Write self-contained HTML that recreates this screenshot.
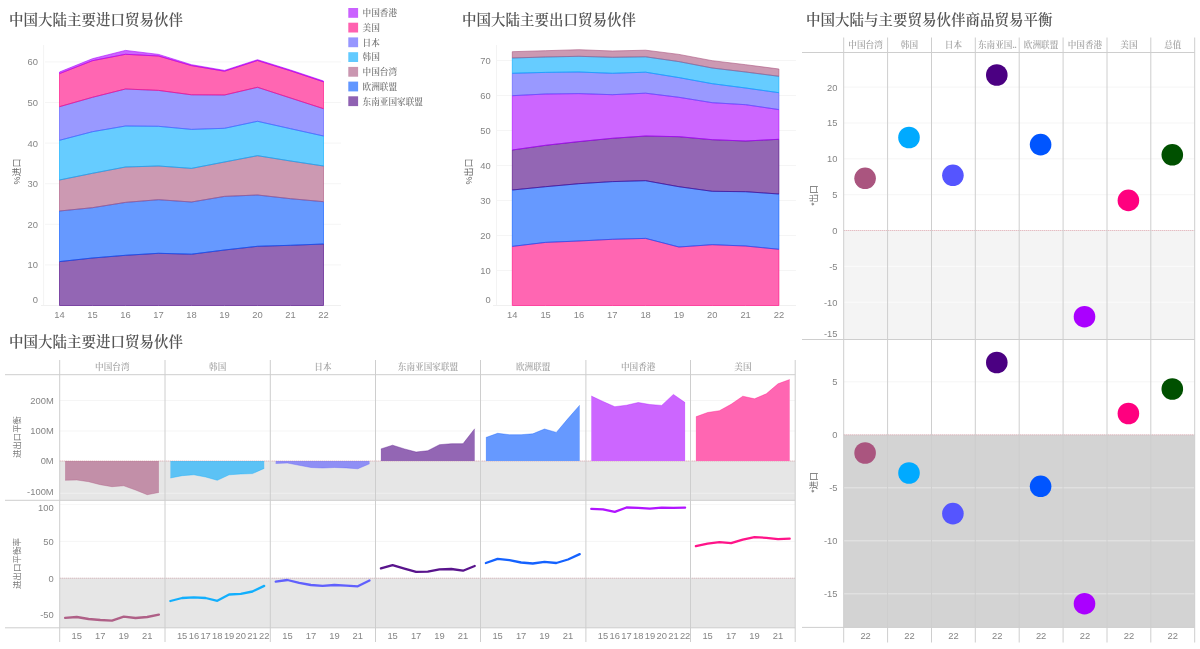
<!DOCTYPE html>
<html lang="zh-CN">
<head>
<meta charset="utf-8">
<title>中国大陆贸易伙伴</title>
<style>
html,body{margin:0;padding:0;background:#fff;}
body{width:1200px;height:649px;overflow:hidden;}
svg{display:block;}
text{white-space:pre;}
</style>
</head>
<body>
<svg width="1200" height="649" viewBox="0 0 1200 649">
<rect width="1200" height="649" fill="#ffffff"/>
<text x="38" y="303" font-size="9.4" fill="#858585" text-anchor="end" font-family='"Liberation Sans","Noto Sans CJK SC",sans-serif' >0</text>
<line x1="45" y1="264.9" x2="341" y2="264.9" stroke="#f5f5f5" stroke-width="1" />
<text x="38" y="268.3" font-size="9.4" fill="#858585" text-anchor="end" font-family='"Liberation Sans","Noto Sans CJK SC",sans-serif' >10</text>
<line x1="45" y1="224.3" x2="341" y2="224.3" stroke="#f5f5f5" stroke-width="1" />
<text x="38" y="227.7" font-size="9.4" fill="#858585" text-anchor="end" font-family='"Liberation Sans","Noto Sans CJK SC",sans-serif' >20</text>
<line x1="45" y1="183.7" x2="341" y2="183.7" stroke="#f5f5f5" stroke-width="1" />
<text x="38" y="187.1" font-size="9.4" fill="#858585" text-anchor="end" font-family='"Liberation Sans","Noto Sans CJK SC",sans-serif' >30</text>
<line x1="45" y1="143.1" x2="341" y2="143.1" stroke="#f5f5f5" stroke-width="1" />
<text x="38" y="146.5" font-size="9.4" fill="#858585" text-anchor="end" font-family='"Liberation Sans","Noto Sans CJK SC",sans-serif' >40</text>
<line x1="45" y1="102.5" x2="341" y2="102.5" stroke="#f5f5f5" stroke-width="1" />
<text x="38" y="105.9" font-size="9.4" fill="#858585" text-anchor="end" font-family='"Liberation Sans","Noto Sans CJK SC",sans-serif' >50</text>
<line x1="45" y1="61.9" x2="341" y2="61.9" stroke="#f5f5f5" stroke-width="1" />
<text x="38" y="65.3" font-size="9.4" fill="#858585" text-anchor="end" font-family='"Liberation Sans","Noto Sans CJK SC",sans-serif' >60</text>
<line x1="43.6" y1="45" x2="43.6" y2="305.5" stroke="#f3f3f3" stroke-width="1" />
<line x1="41" y1="305.5" x2="341" y2="305.5" stroke="#f0f0f0" stroke-width="1" />
<polygon points="59.5,72 92.5,58.7 125.5,50.4 158.5,54.4 191.5,64.7 224.5,70.4 257.5,59.7 290.5,70 323.5,81 323.5,305.5 59.5,305.5" fill="#ffffff"/>
<polygon points="59.5,261.6 92.5,258 125.5,255.3 158.5,253.3 191.5,254.2 224.5,250 257.5,246.3 290.5,245.3 323.5,244 323.5,305.5 290.5,305.5 257.5,305.5 224.5,305.5 191.5,305.5 158.5,305.5 125.5,305.5 92.5,305.5 59.5,305.5" fill="#4B0082" fill-opacity="0.6" stroke="#4B0082" stroke-opacity="0.6" stroke-width="1" stroke-linejoin="round"/>
<polygon points="59.5,211 92.5,207.7 125.5,202.4 158.5,199.7 191.5,202 224.5,196.4 257.5,195 290.5,198.7 323.5,201.7 323.5,244 290.5,245.3 257.5,246.3 224.5,250 191.5,254.2 158.5,253.3 125.5,255.3 92.5,258 59.5,261.6" fill="#0055FF" fill-opacity="0.6" stroke="#0055FF" stroke-opacity="0.6" stroke-width="1" stroke-linejoin="round"/>
<polygon points="59.5,180 92.5,173.3 125.5,167 158.5,166 191.5,168.4 224.5,162 257.5,155.7 290.5,161 323.5,166 323.5,201.7 290.5,198.7 257.5,195 224.5,196.4 191.5,202 158.5,199.7 125.5,202.4 92.5,207.7 59.5,211" fill="#AA557F" fill-opacity="0.6" stroke="#AA557F" stroke-opacity="0.6" stroke-width="1" stroke-linejoin="round"/>
<polygon points="59.5,140.3 92.5,131.7 125.5,126 158.5,126.3 191.5,129.4 224.5,128.3 257.5,121.3 290.5,128.7 323.5,136 323.5,166 290.5,161 257.5,155.7 224.5,162 191.5,168.4 158.5,166 125.5,167 92.5,173.3 59.5,180" fill="#00AAFF" fill-opacity="0.6" stroke="#00AAFF" stroke-opacity="0.6" stroke-width="1" stroke-linejoin="round"/>
<polygon points="59.5,106.7 92.5,97.3 125.5,89 158.5,90.4 191.5,94.8 224.5,95 257.5,87.3 290.5,98 323.5,108.7 323.5,136 290.5,128.7 257.5,121.3 224.5,128.3 191.5,129.4 158.5,126.3 125.5,126 92.5,131.7 59.5,140.3" fill="#5555FF" fill-opacity="0.6" stroke="#5555FF" stroke-opacity="0.6" stroke-width="1" stroke-linejoin="round"/>
<polygon points="59.5,73.6 92.5,60.7 125.5,54.3 158.5,56 191.5,65.6 224.5,71.2 257.5,60.5 290.5,70.8 323.5,81.8 323.5,108.7 290.5,98 257.5,87.3 224.5,95 191.5,94.8 158.5,90.4 125.5,89 92.5,97.3 59.5,106.7" fill="#FF007F" fill-opacity="0.6" stroke="#FF007F" stroke-opacity="0.6" stroke-width="1" stroke-linejoin="round"/>
<polygon points="59.5,72 92.5,58.7 125.5,50.4 158.5,54.4 191.5,64.7 224.5,70.4 257.5,59.7 290.5,70 323.5,81 323.5,81.8 290.5,70.8 257.5,60.5 224.5,71.2 191.5,65.6 158.5,56 125.5,54.3 92.5,60.7 59.5,73.6" fill="#AA00FF" fill-opacity="0.6" stroke="#AA00FF" stroke-opacity="0.6" stroke-width="1" stroke-linejoin="round"/>
<text x="59.5" y="318" font-size="9.4" fill="#858585" text-anchor="middle" font-family='"Liberation Sans","Noto Sans CJK SC",sans-serif' >14</text>
<text x="92.5" y="318" font-size="9.4" fill="#858585" text-anchor="middle" font-family='"Liberation Sans","Noto Sans CJK SC",sans-serif' >15</text>
<text x="125.5" y="318" font-size="9.4" fill="#858585" text-anchor="middle" font-family='"Liberation Sans","Noto Sans CJK SC",sans-serif' >16</text>
<text x="158.5" y="318" font-size="9.4" fill="#858585" text-anchor="middle" font-family='"Liberation Sans","Noto Sans CJK SC",sans-serif' >17</text>
<text x="191.5" y="318" font-size="9.4" fill="#858585" text-anchor="middle" font-family='"Liberation Sans","Noto Sans CJK SC",sans-serif' >18</text>
<text x="224.5" y="318" font-size="9.4" fill="#858585" text-anchor="middle" font-family='"Liberation Sans","Noto Sans CJK SC",sans-serif' >19</text>
<text x="257.5" y="318" font-size="9.4" fill="#858585" text-anchor="middle" font-family='"Liberation Sans","Noto Sans CJK SC",sans-serif' >20</text>
<text x="290.5" y="318" font-size="9.4" fill="#858585" text-anchor="middle" font-family='"Liberation Sans","Noto Sans CJK SC",sans-serif' >21</text>
<text x="323.5" y="318" font-size="9.4" fill="#858585" text-anchor="middle" font-family='"Liberation Sans","Noto Sans CJK SC",sans-serif' >22</text>
<text transform="translate(19.8 171.5) rotate(-90)" font-size="9" fill="#666" text-anchor="middle" font-family='"Liberation Sans","Noto Sans CJK SC",sans-serif'>%进口</text>
<text x="9" y="25" font-size="14.5" fill="#555555" text-anchor="start" font-family='"Liberation Serif","Noto Serif CJK SC",serif' font-weight="600">中国大陆主要进口贸易伙伴</text>
<rect x="348.3" y="8" width="9.8" height="9.8" fill="#AA00FF" fill-opacity="0.62"/>
<text x="362.5" y="16.2" font-size="8.65" fill="#7a7a7a" text-anchor="start" font-family='"Liberation Serif","Noto Serif CJK SC",serif' font-weight="600">中国香港</text>
<rect x="348.3" y="22.7" width="9.8" height="9.8" fill="#FF007F" fill-opacity="0.62"/>
<text x="362.5" y="30.9" font-size="8.65" fill="#7a7a7a" text-anchor="start" font-family='"Liberation Serif","Noto Serif CJK SC",serif' font-weight="600">美国</text>
<rect x="348.3" y="37.4" width="9.8" height="9.8" fill="#5555FF" fill-opacity="0.62"/>
<text x="362.5" y="45.6" font-size="8.65" fill="#7a7a7a" text-anchor="start" font-family='"Liberation Serif","Noto Serif CJK SC",serif' font-weight="600">日本</text>
<rect x="348.3" y="52.2" width="9.8" height="9.8" fill="#00AAFF" fill-opacity="0.62"/>
<text x="362.5" y="60.4" font-size="8.65" fill="#7a7a7a" text-anchor="start" font-family='"Liberation Serif","Noto Serif CJK SC",serif' font-weight="600">韩国</text>
<rect x="348.3" y="66.9" width="9.8" height="9.8" fill="#AA557F" fill-opacity="0.62"/>
<text x="362.5" y="75.1" font-size="8.65" fill="#7a7a7a" text-anchor="start" font-family='"Liberation Serif","Noto Serif CJK SC",serif' font-weight="600">中国台湾</text>
<rect x="348.3" y="81.6" width="9.8" height="9.8" fill="#0055FF" fill-opacity="0.62"/>
<text x="362.5" y="89.8" font-size="8.65" fill="#7a7a7a" text-anchor="start" font-family='"Liberation Serif","Noto Serif CJK SC",serif' font-weight="600">欧洲联盟</text>
<rect x="348.3" y="96.3" width="9.8" height="9.8" fill="#4B0082" fill-opacity="0.62"/>
<text x="362.5" y="104.5" font-size="8.65" fill="#7a7a7a" text-anchor="start" font-family='"Liberation Serif","Noto Serif CJK SC",serif' font-weight="600">东南亚国家联盟</text>
<text x="490.8" y="303" font-size="9.4" fill="#858585" text-anchor="end" font-family='"Liberation Sans","Noto Sans CJK SC",sans-serif' >0</text>
<line x1="497" y1="270.5" x2="796" y2="270.5" stroke="#f5f5f5" stroke-width="1" />
<text x="490.8" y="273.9" font-size="9.4" fill="#858585" text-anchor="end" font-family='"Liberation Sans","Noto Sans CJK SC",sans-serif' >10</text>
<line x1="497" y1="235.5" x2="796" y2="235.5" stroke="#f5f5f5" stroke-width="1" />
<text x="490.8" y="238.9" font-size="9.4" fill="#858585" text-anchor="end" font-family='"Liberation Sans","Noto Sans CJK SC",sans-serif' >20</text>
<line x1="497" y1="200.5" x2="796" y2="200.5" stroke="#f5f5f5" stroke-width="1" />
<text x="490.8" y="203.9" font-size="9.4" fill="#858585" text-anchor="end" font-family='"Liberation Sans","Noto Sans CJK SC",sans-serif' >30</text>
<line x1="497" y1="165.5" x2="796" y2="165.5" stroke="#f5f5f5" stroke-width="1" />
<text x="490.8" y="168.9" font-size="9.4" fill="#858585" text-anchor="end" font-family='"Liberation Sans","Noto Sans CJK SC",sans-serif' >40</text>
<line x1="497" y1="130.5" x2="796" y2="130.5" stroke="#f5f5f5" stroke-width="1" />
<text x="490.8" y="133.9" font-size="9.4" fill="#858585" text-anchor="end" font-family='"Liberation Sans","Noto Sans CJK SC",sans-serif' >50</text>
<line x1="497" y1="95.5" x2="796" y2="95.5" stroke="#f5f5f5" stroke-width="1" />
<text x="490.8" y="98.9" font-size="9.4" fill="#858585" text-anchor="end" font-family='"Liberation Sans","Noto Sans CJK SC",sans-serif' >60</text>
<line x1="497" y1="60.5" x2="796" y2="60.5" stroke="#f5f5f5" stroke-width="1" />
<text x="490.8" y="63.9" font-size="9.4" fill="#858585" text-anchor="end" font-family='"Liberation Sans","Noto Sans CJK SC",sans-serif' >70</text>
<line x1="496.5" y1="45" x2="496.5" y2="305.5" stroke="#f3f3f3" stroke-width="1" />
<line x1="493" y1="305.5" x2="796" y2="305.5" stroke="#f0f0f0" stroke-width="1" />
<polygon points="512.3,51.7 545.6,50.7 578.9,49.7 612.3,51 645.6,50.2 678.9,54.4 712.2,60.7 745.6,64.7 778.9,69 778.9,305.5 512.3,305.5" fill="#ffffff"/>
<polygon points="512.3,246.4 545.6,242.4 578.9,241 612.3,239.3 645.6,238.4 678.9,247 712.2,244.7 745.6,246 778.9,249.3 778.9,305.5 745.6,305.5 712.2,305.5 678.9,305.5 645.6,305.5 612.3,305.5 578.9,305.5 545.6,305.5 512.3,305.5" fill="#FF007F" fill-opacity="0.6" stroke="#FF007F" stroke-opacity="0.6" stroke-width="1" stroke-linejoin="round"/>
<polygon points="512.3,190 545.6,186.7 578.9,183.7 612.3,181.6 645.6,180.7 678.9,186.7 712.2,191.3 745.6,191.7 778.9,194 778.9,249.3 745.6,246 712.2,244.7 678.9,247 645.6,238.4 612.3,239.3 578.9,241 545.6,242.4 512.3,246.4" fill="#0055FF" fill-opacity="0.6" stroke="#0055FF" stroke-opacity="0.6" stroke-width="1" stroke-linejoin="round"/>
<polygon points="512.3,150 545.6,145.3 578.9,141.6 612.3,138.3 645.6,136 678.9,136.7 712.2,139.7 745.6,141 778.9,139.3 778.9,194 745.6,191.7 712.2,191.3 678.9,186.7 645.6,180.7 612.3,181.6 578.9,183.7 545.6,186.7 512.3,190" fill="#4B0082" fill-opacity="0.6" stroke="#4B0082" stroke-opacity="0.6" stroke-width="1" stroke-linejoin="round"/>
<polygon points="512.3,95.7 545.6,94 578.9,93.6 612.3,94.7 645.6,93.2 678.9,97.3 712.2,102.7 745.6,104.7 778.9,109.6 778.9,139.3 745.6,141 712.2,139.7 678.9,136.7 645.6,136 612.3,138.3 578.9,141.6 545.6,145.3 512.3,150" fill="#AA00FF" fill-opacity="0.6" stroke="#AA00FF" stroke-opacity="0.6" stroke-width="1" stroke-linejoin="round"/>
<polygon points="512.3,73.3 545.6,72.4 578.9,72 612.3,73.3 645.6,72.2 678.9,77.6 712.2,83.7 745.6,88 778.9,92.7 778.9,109.6 745.6,104.7 712.2,102.7 678.9,97.3 645.6,93.2 612.3,94.7 578.9,93.6 545.6,94 512.3,95.7" fill="#5555FF" fill-opacity="0.6" stroke="#5555FF" stroke-opacity="0.6" stroke-width="1" stroke-linejoin="round"/>
<polygon points="512.3,58 545.6,57 578.9,56.3 612.3,57.3 645.6,56.8 678.9,61.6 712.2,68 745.6,72 778.9,76.3 778.9,92.7 745.6,88 712.2,83.7 678.9,77.6 645.6,72.2 612.3,73.3 578.9,72 545.6,72.4 512.3,73.3" fill="#00AAFF" fill-opacity="0.6" stroke="#00AAFF" stroke-opacity="0.6" stroke-width="1" stroke-linejoin="round"/>
<polygon points="512.3,51.7 545.6,50.7 578.9,49.7 612.3,51 645.6,50.2 678.9,54.4 712.2,60.7 745.6,64.7 778.9,69 778.9,76.3 745.6,72 712.2,68 678.9,61.6 645.6,56.8 612.3,57.3 578.9,56.3 545.6,57 512.3,58" fill="#AA557F" fill-opacity="0.6" stroke="#AA557F" stroke-opacity="0.6" stroke-width="1" stroke-linejoin="round"/>
<text x="512.3" y="318" font-size="9.4" fill="#858585" text-anchor="middle" font-family='"Liberation Sans","Noto Sans CJK SC",sans-serif' >14</text>
<text x="545.6" y="318" font-size="9.4" fill="#858585" text-anchor="middle" font-family='"Liberation Sans","Noto Sans CJK SC",sans-serif' >15</text>
<text x="578.9" y="318" font-size="9.4" fill="#858585" text-anchor="middle" font-family='"Liberation Sans","Noto Sans CJK SC",sans-serif' >16</text>
<text x="612.3" y="318" font-size="9.4" fill="#858585" text-anchor="middle" font-family='"Liberation Sans","Noto Sans CJK SC",sans-serif' >17</text>
<text x="645.6" y="318" font-size="9.4" fill="#858585" text-anchor="middle" font-family='"Liberation Sans","Noto Sans CJK SC",sans-serif' >18</text>
<text x="678.9" y="318" font-size="9.4" fill="#858585" text-anchor="middle" font-family='"Liberation Sans","Noto Sans CJK SC",sans-serif' >19</text>
<text x="712.2" y="318" font-size="9.4" fill="#858585" text-anchor="middle" font-family='"Liberation Sans","Noto Sans CJK SC",sans-serif' >20</text>
<text x="745.6" y="318" font-size="9.4" fill="#858585" text-anchor="middle" font-family='"Liberation Sans","Noto Sans CJK SC",sans-serif' >21</text>
<text x="778.9" y="318" font-size="9.4" fill="#858585" text-anchor="middle" font-family='"Liberation Sans","Noto Sans CJK SC",sans-serif' >22</text>
<text transform="translate(472.3 171.5) rotate(-90)" font-size="9" fill="#666" text-anchor="middle" font-family='"Liberation Sans","Noto Sans CJK SC",sans-serif'>%出口</text>
<text x="462" y="25" font-size="14.5" fill="#555555" text-anchor="start" font-family='"Liberation Serif","Noto Serif CJK SC",serif' font-weight="600">中国大陆主要出口贸易伙伴</text>
<rect x="59.7" y="461" width="735.5" height="39.3" fill="#e6e6e6" />
<rect x="59.7" y="578.2" width="735.5" height="49.6" fill="#e6e6e6" />
<line x1="59.7" y1="400.5" x2="795.2" y2="400.5" stroke="#f5f5f5" stroke-width="1" />
<line x1="59.7" y1="431" x2="795.2" y2="431" stroke="#f5f5f5" stroke-width="1" />
<line x1="59.7" y1="493.3" x2="795.2" y2="493.3" stroke="#efefef" stroke-width="1" />
<line x1="59.7" y1="541.4" x2="795.2" y2="541.4" stroke="#f5f5f5" stroke-width="1" />
<line x1="59.7" y1="504.6" x2="795.2" y2="504.6" stroke="#f7f7f7" stroke-width="1" />
<line x1="59.7" y1="461" x2="795.2" y2="461" stroke="#d9a0a8" stroke-width="1" stroke-dasharray="1 1"/>
<line x1="59.7" y1="578.2" x2="795.2" y2="578.2" stroke="#c9a0a6" stroke-width="1" stroke-dasharray="1 1"/>
<polygon points="65.1,480.3 76.8,480 88.6,481.7 100.3,484.7 112,486.7 123.8,485.8 135.5,490 147.2,494.7 158.9,492.5 158.9,461 65.1,461" fill="#AA557F" fill-opacity="0.6"/>
<polyline points="65.1,480.3 76.8,480 88.6,481.7 100.3,484.7 112,486.7 123.8,485.8 135.5,490 147.2,494.7 158.9,492.5" fill="none" stroke="#AA557F" stroke-opacity="0.35" stroke-width="1"/>
<polyline points="65.1,617.8 76.8,617 88.6,619 100.3,620 112,620.6 123.8,616.7 135.5,618 147.2,617 158.9,614.6" fill="none" stroke="#AA557F" stroke-opacity="0.92" stroke-width="2.3" stroke-linejoin="round" stroke-linecap="round"/>
<text x="76.8" y="639.2" font-size="9.4" fill="#858585" text-anchor="middle" font-family='"Liberation Sans","Noto Sans CJK SC",sans-serif' >15</text>
<text x="100.3" y="639.2" font-size="9.4" fill="#858585" text-anchor="middle" font-family='"Liberation Sans","Noto Sans CJK SC",sans-serif' >17</text>
<text x="123.8" y="639.2" font-size="9.4" fill="#858585" text-anchor="middle" font-family='"Liberation Sans","Noto Sans CJK SC",sans-serif' >19</text>
<text x="147.2" y="639.2" font-size="9.4" fill="#858585" text-anchor="middle" font-family='"Liberation Sans","Noto Sans CJK SC",sans-serif' >21</text>
<text x="112.3" y="370.2" font-size="8.65" fill="#a6a6a6" text-anchor="middle" font-family='"Liberation Serif","Noto Serif CJK SC",serif' font-weight="600">中国台湾</text>
<polygon points="170.4,478 182.1,475.7 193.9,474.8 205.6,477 217.3,480.3 229.1,474.8 240.8,474 252.5,473.6 264.2,468.4 264.2,461 170.4,461" fill="#00AAFF" fill-opacity="0.6"/>
<polyline points="170.4,478 182.1,475.7 193.9,474.8 205.6,477 217.3,480.3 229.1,474.8 240.8,474 252.5,473.6 264.2,468.4" fill="none" stroke="#00AAFF" stroke-opacity="0.35" stroke-width="1"/>
<polyline points="170.4,601 182.1,598 193.9,597.3 205.6,598 217.3,600.8 229.1,594.5 240.8,593.8 252.5,591.5 264.2,585.9" fill="none" stroke="#00AAFF" stroke-opacity="0.92" stroke-width="2.3" stroke-linejoin="round" stroke-linecap="round"/>
<text x="182.1" y="639.2" font-size="9.4" fill="#858585" text-anchor="middle" font-family='"Liberation Sans","Noto Sans CJK SC",sans-serif' >15</text>
<text x="193.9" y="639.2" font-size="9.4" fill="#858585" text-anchor="middle" font-family='"Liberation Sans","Noto Sans CJK SC",sans-serif' >16</text>
<text x="205.6" y="639.2" font-size="9.4" fill="#858585" text-anchor="middle" font-family='"Liberation Sans","Noto Sans CJK SC",sans-serif' >17</text>
<text x="217.3" y="639.2" font-size="9.4" fill="#858585" text-anchor="middle" font-family='"Liberation Sans","Noto Sans CJK SC",sans-serif' >18</text>
<text x="229.1" y="639.2" font-size="9.4" fill="#858585" text-anchor="middle" font-family='"Liberation Sans","Noto Sans CJK SC",sans-serif' >19</text>
<text x="240.8" y="639.2" font-size="9.4" fill="#858585" text-anchor="middle" font-family='"Liberation Sans","Noto Sans CJK SC",sans-serif' >20</text>
<text x="252.5" y="639.2" font-size="9.4" fill="#858585" text-anchor="middle" font-family='"Liberation Sans","Noto Sans CJK SC",sans-serif' >21</text>
<text x="264.2" y="639.2" font-size="9.4" fill="#858585" text-anchor="middle" font-family='"Liberation Sans","Noto Sans CJK SC",sans-serif' >22</text>
<text x="217.7" y="370.2" font-size="8.65" fill="#a6a6a6" text-anchor="middle" font-family='"Liberation Serif","Noto Serif CJK SC",serif' font-weight="600">韩国</text>
<polygon points="275.7,463.5 287.4,463 299.2,465.3 310.9,467.5 322.6,468 334.4,467.5 346.1,467.9 357.8,468.8 369.5,463.8 369.5,461 275.7,461" fill="#5555FF" fill-opacity="0.6"/>
<polyline points="275.7,463.5 287.4,463 299.2,465.3 310.9,467.5 322.6,468 334.4,467.5 346.1,467.9 357.8,468.8 369.5,463.8" fill="none" stroke="#5555FF" stroke-opacity="0.35" stroke-width="1"/>
<polyline points="275.7,581.7 287.4,580 299.2,582.8 310.9,585 322.6,585.9 334.4,585 346.1,585.6 357.8,586.3 369.5,580.5" fill="none" stroke="#5555FF" stroke-opacity="0.92" stroke-width="2.3" stroke-linejoin="round" stroke-linecap="round"/>
<text x="287.4" y="639.2" font-size="9.4" fill="#858585" text-anchor="middle" font-family='"Liberation Sans","Noto Sans CJK SC",sans-serif' >15</text>
<text x="310.9" y="639.2" font-size="9.4" fill="#858585" text-anchor="middle" font-family='"Liberation Sans","Noto Sans CJK SC",sans-serif' >17</text>
<text x="334.4" y="639.2" font-size="9.4" fill="#858585" text-anchor="middle" font-family='"Liberation Sans","Noto Sans CJK SC",sans-serif' >19</text>
<text x="357.8" y="639.2" font-size="9.4" fill="#858585" text-anchor="middle" font-family='"Liberation Sans","Noto Sans CJK SC",sans-serif' >21</text>
<text x="322.9" y="370.2" font-size="8.65" fill="#a6a6a6" text-anchor="middle" font-family='"Liberation Serif","Noto Serif CJK SC",serif' font-weight="600">日本</text>
<polygon points="380.9,448.9 392.6,445.2 404.4,448.9 416.1,452 427.8,450.7 439.5,444.7 451.3,443.7 463,443.7 474.7,428.7 474.7,461 380.9,461" fill="#ffffff"/>
<polygon points="380.9,448.9 392.6,445.2 404.4,448.9 416.1,452 427.8,450.7 439.5,444.7 451.3,443.7 463,443.7 474.7,428.7 474.7,461 380.9,461" fill="#4B0082" fill-opacity="0.6"/>
<polyline points="380.9,448.9 392.6,445.2 404.4,448.9 416.1,452 427.8,450.7 439.5,444.7 451.3,443.7 463,443.7 474.7,428.7" fill="none" stroke="#4B0082" stroke-opacity="0.35" stroke-width="1"/>
<polyline points="380.9,568.4 392.6,565.1 404.4,568.6 416.1,571.9 427.8,571.6 439.5,569.3 451.3,569 463,570.7 474.7,566" fill="none" stroke="#4B0082" stroke-opacity="0.92" stroke-width="2.3" stroke-linejoin="round" stroke-linecap="round"/>
<text x="392.6" y="639.2" font-size="9.4" fill="#858585" text-anchor="middle" font-family='"Liberation Sans","Noto Sans CJK SC",sans-serif' >15</text>
<text x="416.1" y="639.2" font-size="9.4" fill="#858585" text-anchor="middle" font-family='"Liberation Sans","Noto Sans CJK SC",sans-serif' >17</text>
<text x="439.5" y="639.2" font-size="9.4" fill="#858585" text-anchor="middle" font-family='"Liberation Sans","Noto Sans CJK SC",sans-serif' >19</text>
<text x="463" y="639.2" font-size="9.4" fill="#858585" text-anchor="middle" font-family='"Liberation Sans","Noto Sans CJK SC",sans-serif' >21</text>
<text x="428" y="370.2" font-size="8.65" fill="#a6a6a6" text-anchor="middle" font-family='"Liberation Serif","Noto Serif CJK SC",serif' font-weight="600">东南亚国家联盟</text>
<polygon points="485.9,437.5 497.6,433.3 509.4,434.7 521.1,434.7 532.8,433.8 544.5,429 556.3,432.4 568,418.6 579.7,405.2 579.7,461 485.9,461" fill="#ffffff"/>
<polygon points="485.9,437.5 497.6,433.3 509.4,434.7 521.1,434.7 532.8,433.8 544.5,429 556.3,432.4 568,418.6 579.7,405.2 579.7,461 485.9,461" fill="#0055FF" fill-opacity="0.6"/>
<polyline points="485.9,437.5 497.6,433.3 509.4,434.7 521.1,434.7 532.8,433.8 544.5,429 556.3,432.4 568,418.6 579.7,405.2" fill="none" stroke="#0055FF" stroke-opacity="0.35" stroke-width="1"/>
<polyline points="485.9,563 497.6,558.8 509.4,560.2 521.1,562.5 532.8,563.5 544.5,561.8 556.3,563 568,559.5 579.7,554.1" fill="none" stroke="#0055FF" stroke-opacity="0.92" stroke-width="2.3" stroke-linejoin="round" stroke-linecap="round"/>
<text x="497.6" y="639.2" font-size="9.4" fill="#858585" text-anchor="middle" font-family='"Liberation Sans","Noto Sans CJK SC",sans-serif' >15</text>
<text x="521.1" y="639.2" font-size="9.4" fill="#858585" text-anchor="middle" font-family='"Liberation Sans","Noto Sans CJK SC",sans-serif' >17</text>
<text x="544.5" y="639.2" font-size="9.4" fill="#858585" text-anchor="middle" font-family='"Liberation Sans","Noto Sans CJK SC",sans-serif' >19</text>
<text x="568" y="639.2" font-size="9.4" fill="#858585" text-anchor="middle" font-family='"Liberation Sans","Noto Sans CJK SC",sans-serif' >21</text>
<text x="533.2" y="370.2" font-size="8.65" fill="#a6a6a6" text-anchor="middle" font-family='"Liberation Serif","Noto Serif CJK SC",serif' font-weight="600">欧洲联盟</text>
<polygon points="591.3,396 603,401.5 614.8,406.7 626.5,405.2 638.2,402.5 649.9,404.5 661.7,405.4 673.4,394.4 685.1,402.6 685.1,461 591.3,461" fill="#ffffff"/>
<polygon points="591.3,396 603,401.5 614.8,406.7 626.5,405.2 638.2,402.5 649.9,404.5 661.7,405.4 673.4,394.4 685.1,402.6 685.1,461 591.3,461" fill="#AA00FF" fill-opacity="0.6"/>
<polyline points="591.3,396 603,401.5 614.8,406.7 626.5,405.2 638.2,402.5 649.9,404.5 661.7,405.4 673.4,394.4 685.1,402.6" fill="none" stroke="#AA00FF" stroke-opacity="0.35" stroke-width="1"/>
<polyline points="591.3,508.9 603,509.3 614.8,511.9 626.5,507.5 638.2,507.9 649.9,508.6 661.7,507.7 673.4,507.9 685.1,507.7" fill="none" stroke="#AA00FF" stroke-opacity="0.92" stroke-width="2.3" stroke-linejoin="round" stroke-linecap="round"/>
<text x="603" y="639.2" font-size="9.4" fill="#858585" text-anchor="middle" font-family='"Liberation Sans","Noto Sans CJK SC",sans-serif' >15</text>
<text x="614.8" y="639.2" font-size="9.4" fill="#858585" text-anchor="middle" font-family='"Liberation Sans","Noto Sans CJK SC",sans-serif' >16</text>
<text x="626.5" y="639.2" font-size="9.4" fill="#858585" text-anchor="middle" font-family='"Liberation Sans","Noto Sans CJK SC",sans-serif' >17</text>
<text x="638.2" y="639.2" font-size="9.4" fill="#858585" text-anchor="middle" font-family='"Liberation Sans","Noto Sans CJK SC",sans-serif' >18</text>
<text x="649.9" y="639.2" font-size="9.4" fill="#858585" text-anchor="middle" font-family='"Liberation Sans","Noto Sans CJK SC",sans-serif' >19</text>
<text x="661.7" y="639.2" font-size="9.4" fill="#858585" text-anchor="middle" font-family='"Liberation Sans","Noto Sans CJK SC",sans-serif' >20</text>
<text x="673.4" y="639.2" font-size="9.4" fill="#858585" text-anchor="middle" font-family='"Liberation Sans","Noto Sans CJK SC",sans-serif' >21</text>
<text x="685.1" y="639.2" font-size="9.4" fill="#858585" text-anchor="middle" font-family='"Liberation Sans","Noto Sans CJK SC",sans-serif' >22</text>
<text x="638.2" y="370.2" font-size="8.65" fill="#a6a6a6" text-anchor="middle" font-family='"Liberation Serif","Noto Serif CJK SC",serif' font-weight="600">中国香港</text>
<polygon points="695.9,416.8 707.6,412.5 719.4,410.7 731.1,404.3 742.8,396.2 754.5,398.8 766.3,393.8 778,383.8 789.7,379.5 789.7,461 695.9,461" fill="#ffffff"/>
<polygon points="695.9,416.8 707.6,412.5 719.4,410.7 731.1,404.3 742.8,396.2 754.5,398.8 766.3,393.8 778,383.8 789.7,379.5 789.7,461 695.9,461" fill="#FF007F" fill-opacity="0.6"/>
<polyline points="695.9,416.8 707.6,412.5 719.4,410.7 731.1,404.3 742.8,396.2 754.5,398.8 766.3,393.8 778,383.8 789.7,379.5" fill="none" stroke="#FF007F" stroke-opacity="0.35" stroke-width="1"/>
<polyline points="695.9,546.2 707.6,543.6 719.4,542.2 731.1,543.2 742.8,539.7 754.5,537.1 766.3,537.8 778,539.2 789.7,538.7" fill="none" stroke="#FF007F" stroke-opacity="0.92" stroke-width="2.3" stroke-linejoin="round" stroke-linecap="round"/>
<text x="707.6" y="639.2" font-size="9.4" fill="#858585" text-anchor="middle" font-family='"Liberation Sans","Noto Sans CJK SC",sans-serif' >15</text>
<text x="731.1" y="639.2" font-size="9.4" fill="#858585" text-anchor="middle" font-family='"Liberation Sans","Noto Sans CJK SC",sans-serif' >17</text>
<text x="754.5" y="639.2" font-size="9.4" fill="#858585" text-anchor="middle" font-family='"Liberation Sans","Noto Sans CJK SC",sans-serif' >19</text>
<text x="778" y="639.2" font-size="9.4" fill="#858585" text-anchor="middle" font-family='"Liberation Sans","Noto Sans CJK SC",sans-serif' >21</text>
<text x="742.9" y="370.2" font-size="8.65" fill="#a6a6a6" text-anchor="middle" font-family='"Liberation Serif","Noto Serif CJK SC",serif' font-weight="600">美国</text>
<line x1="59.7" y1="360" x2="59.7" y2="642" stroke="#cecece" stroke-width="1" />
<line x1="165" y1="360" x2="165" y2="642" stroke="#cecece" stroke-width="1" />
<line x1="270.3" y1="360" x2="270.3" y2="642" stroke="#cecece" stroke-width="1" />
<line x1="375.5" y1="360" x2="375.5" y2="642" stroke="#cecece" stroke-width="1" />
<line x1="480.5" y1="360" x2="480.5" y2="642" stroke="#cecece" stroke-width="1" />
<line x1="585.9" y1="360" x2="585.9" y2="642" stroke="#cecece" stroke-width="1" />
<line x1="690.5" y1="360" x2="690.5" y2="642" stroke="#cecece" stroke-width="1" />
<line x1="795.2" y1="360" x2="795.2" y2="642" stroke="#cecece" stroke-width="1" />
<line x1="5" y1="374.7" x2="795.2" y2="374.7" stroke="#cecece" stroke-width="1" />
<line x1="5" y1="500.3" x2="795.2" y2="500.3" stroke="#cecece" stroke-width="1" />
<line x1="5" y1="627.8" x2="795.2" y2="627.8" stroke="#cecece" stroke-width="1" />
<text x="53.7" y="403.9" font-size="9.4" fill="#858585" text-anchor="end" font-family='"Liberation Sans","Noto Sans CJK SC",sans-serif' >200M</text>
<text x="53.7" y="434.4" font-size="9.4" fill="#858585" text-anchor="end" font-family='"Liberation Sans","Noto Sans CJK SC",sans-serif' >100M</text>
<text x="53.7" y="464.4" font-size="9.4" fill="#858585" text-anchor="end" font-family='"Liberation Sans","Noto Sans CJK SC",sans-serif' >0M</text>
<text x="53.7" y="494.7" font-size="9.4" fill="#858585" text-anchor="end" font-family='"Liberation Sans","Noto Sans CJK SC",sans-serif' >-100M</text>
<text x="53.7" y="510.9" font-size="9.4" fill="#858585" text-anchor="end" font-family='"Liberation Sans","Noto Sans CJK SC",sans-serif' >100</text>
<text x="53.7" y="544.8" font-size="9.4" fill="#858585" text-anchor="end" font-family='"Liberation Sans","Noto Sans CJK SC",sans-serif' >50</text>
<text x="53.7" y="581.6" font-size="9.4" fill="#858585" text-anchor="end" font-family='"Liberation Sans","Noto Sans CJK SC",sans-serif' >0</text>
<text x="53.7" y="618.4" font-size="9.4" fill="#858585" text-anchor="end" font-family='"Liberation Sans","Noto Sans CJK SC",sans-serif' >-50</text>
<text transform="translate(19.6 437) rotate(-90)" font-size="8.4" fill="#7d7d7d" text-anchor="middle" font-family='"Liberation Sans","Noto Sans CJK SC",sans-serif'>进出口平衡</text>
<text transform="translate(19.6 563.5) rotate(-90)" font-size="8.5" fill="#7d7d7d" text-anchor="middle" font-family='"Liberation Sans","Noto Sans CJK SC",sans-serif'>进出口平衡率</text>
<text x="9" y="346.5" font-size="14.5" fill="#555555" text-anchor="start" font-family='"Liberation Serif","Noto Serif CJK SC",serif' font-weight="600">中国大陆主要进口贸易伙伴</text>
<rect x="843.7" y="230.5" width="351" height="109" fill="#f4f4f4" />
<rect x="843.7" y="434.8" width="351" height="192.6" fill="#d3d3d3" />
<line x1="843.7" y1="194.7" x2="1194.7" y2="194.7" stroke="#f5f5f5" stroke-width="1" />
<line x1="843.7" y1="158.8" x2="1194.7" y2="158.8" stroke="#f5f5f5" stroke-width="1" />
<line x1="843.7" y1="123" x2="1194.7" y2="123" stroke="#f5f5f5" stroke-width="1" />
<line x1="843.7" y1="87.1" x2="1194.7" y2="87.1" stroke="#f5f5f5" stroke-width="1" />
<line x1="843.7" y1="266.4" x2="1194.7" y2="266.4" stroke="#fbfbfb" stroke-width="1" />
<line x1="843.7" y1="302.2" x2="1194.7" y2="302.2" stroke="#fbfbfb" stroke-width="1" />
<line x1="843.7" y1="381.8" x2="1194.7" y2="381.8" stroke="#f5f5f5" stroke-width="1" />
<line x1="843.7" y1="487.8" x2="1194.7" y2="487.8" stroke="#e6e6e6" stroke-width="1" />
<line x1="843.7" y1="540.8" x2="1194.7" y2="540.8" stroke="#e6e6e6" stroke-width="1" />
<line x1="843.7" y1="593.8" x2="1194.7" y2="593.8" stroke="#e6e6e6" stroke-width="1" />
<line x1="843.7" y1="230.5" x2="1194.7" y2="230.5" stroke="#dba3ab" stroke-width="1" stroke-dasharray="1 1"/>
<line x1="843.7" y1="434.8" x2="1194.7" y2="434.8" stroke="#dba3ab" stroke-width="1" stroke-dasharray="1 1"/>
<line x1="843.7" y1="37.5" x2="843.7" y2="642.5" stroke="#cecece" stroke-width="1" />
<line x1="887.6" y1="37.5" x2="887.6" y2="642.5" stroke="#cecece" stroke-width="1" />
<line x1="931.5" y1="37.5" x2="931.5" y2="642.5" stroke="#cecece" stroke-width="1" />
<line x1="975.3" y1="37.5" x2="975.3" y2="642.5" stroke="#cecece" stroke-width="1" />
<line x1="1019.2" y1="37.5" x2="1019.2" y2="642.5" stroke="#cecece" stroke-width="1" />
<line x1="1063.1" y1="37.5" x2="1063.1" y2="642.5" stroke="#cecece" stroke-width="1" />
<line x1="1107" y1="37.5" x2="1107" y2="642.5" stroke="#cecece" stroke-width="1" />
<line x1="1150.8" y1="37.5" x2="1150.8" y2="642.5" stroke="#cecece" stroke-width="1" />
<line x1="1194.7" y1="37.5" x2="1194.7" y2="642.5" stroke="#cecece" stroke-width="1" />
<line x1="802" y1="52.5" x2="1194.7" y2="52.5" stroke="#cecece" stroke-width="1" />
<line x1="802" y1="339.5" x2="1194.7" y2="339.5" stroke="#cecece" stroke-width="1" />
<line x1="802" y1="627.4" x2="1194.7" y2="627.4" stroke="#cecece" stroke-width="1" />
<circle cx="865.1" cy="178.3" r="10.8" fill="#AA557F"/>
<circle cx="865.1" cy="453" r="10.8" fill="#AA557F"/>
<text x="865.6" y="48.2" font-size="8.65" fill="#a6a6a6" text-anchor="middle" font-family='"Liberation Serif","Noto Serif CJK SC",serif' font-weight="600">中国台湾</text>
<text x="865.6" y="638.8" font-size="9.4" fill="#858585" text-anchor="middle" font-family='"Liberation Sans","Noto Sans CJK SC",sans-serif' >22</text>
<circle cx="909" cy="137.5" r="10.8" fill="#00AAFF"/>
<circle cx="909" cy="473" r="10.8" fill="#00AAFF"/>
<text x="909.5" y="48.2" font-size="8.65" fill="#a6a6a6" text-anchor="middle" font-family='"Liberation Serif","Noto Serif CJK SC",serif' font-weight="600">韩国</text>
<text x="909.5" y="638.8" font-size="9.4" fill="#858585" text-anchor="middle" font-family='"Liberation Sans","Noto Sans CJK SC",sans-serif' >22</text>
<circle cx="952.9" cy="175.3" r="10.8" fill="#5555FF"/>
<circle cx="952.9" cy="513.6" r="10.8" fill="#5555FF"/>
<text x="953.4" y="48.2" font-size="8.65" fill="#a6a6a6" text-anchor="middle" font-family='"Liberation Serif","Noto Serif CJK SC",serif' font-weight="600">日本</text>
<text x="953.4" y="638.8" font-size="9.4" fill="#858585" text-anchor="middle" font-family='"Liberation Sans","Noto Sans CJK SC",sans-serif' >22</text>
<circle cx="996.8" cy="75" r="10.8" fill="#4B0082"/>
<circle cx="996.8" cy="362.5" r="10.8" fill="#4B0082"/>
<text x="997.3" y="48.2" font-size="8.65" fill="#a6a6a6" text-anchor="middle" font-family='"Liberation Serif","Noto Serif CJK SC",serif' font-weight="600">东南亚国..</text>
<text x="997.3" y="638.8" font-size="9.4" fill="#858585" text-anchor="middle" font-family='"Liberation Sans","Noto Sans CJK SC",sans-serif' >22</text>
<circle cx="1040.6" cy="144.6" r="10.8" fill="#0055FF"/>
<circle cx="1040.6" cy="486.3" r="10.8" fill="#0055FF"/>
<text x="1041.1" y="48.2" font-size="8.65" fill="#a6a6a6" text-anchor="middle" font-family='"Liberation Serif","Noto Serif CJK SC",serif' font-weight="600">欧洲联盟</text>
<text x="1041.1" y="638.8" font-size="9.4" fill="#858585" text-anchor="middle" font-family='"Liberation Sans","Noto Sans CJK SC",sans-serif' >22</text>
<circle cx="1084.5" cy="316.7" r="10.8" fill="#AA00FF"/>
<circle cx="1084.5" cy="603.7" r="10.8" fill="#AA00FF"/>
<text x="1085" y="48.2" font-size="8.65" fill="#a6a6a6" text-anchor="middle" font-family='"Liberation Serif","Noto Serif CJK SC",serif' font-weight="600">中国香港</text>
<text x="1085" y="638.8" font-size="9.4" fill="#858585" text-anchor="middle" font-family='"Liberation Sans","Noto Sans CJK SC",sans-serif' >22</text>
<circle cx="1128.4" cy="200.4" r="10.8" fill="#FF007F"/>
<circle cx="1128.4" cy="413.5" r="10.8" fill="#FF007F"/>
<text x="1128.9" y="48.2" font-size="8.65" fill="#a6a6a6" text-anchor="middle" font-family='"Liberation Serif","Noto Serif CJK SC",serif' font-weight="600">美国</text>
<text x="1128.9" y="638.8" font-size="9.4" fill="#858585" text-anchor="middle" font-family='"Liberation Sans","Noto Sans CJK SC",sans-serif' >22</text>
<circle cx="1172.3" cy="154.8" r="10.8" fill="#005000"/>
<circle cx="1172.3" cy="389" r="10.8" fill="#005000"/>
<text x="1172.8" y="48.2" font-size="8.65" fill="#a6a6a6" text-anchor="middle" font-family='"Liberation Serif","Noto Serif CJK SC",serif' font-weight="600">总值</text>
<text x="1172.8" y="638.8" font-size="9.4" fill="#858585" text-anchor="middle" font-family='"Liberation Sans","Noto Sans CJK SC",sans-serif' >22</text>
<text x="837.5" y="90.5" font-size="9.4" fill="#858585" text-anchor="end" font-family='"Liberation Sans","Noto Sans CJK SC",sans-serif' >20</text>
<text x="837.5" y="126.4" font-size="9.4" fill="#858585" text-anchor="end" font-family='"Liberation Sans","Noto Sans CJK SC",sans-serif' >15</text>
<text x="837.5" y="162.2" font-size="9.4" fill="#858585" text-anchor="end" font-family='"Liberation Sans","Noto Sans CJK SC",sans-serif' >10</text>
<text x="837.5" y="198.1" font-size="9.4" fill="#858585" text-anchor="end" font-family='"Liberation Sans","Noto Sans CJK SC",sans-serif' >5</text>
<text x="837.5" y="233.9" font-size="9.4" fill="#858585" text-anchor="end" font-family='"Liberation Sans","Noto Sans CJK SC",sans-serif' >0</text>
<text x="837.5" y="269.8" font-size="9.4" fill="#858585" text-anchor="end" font-family='"Liberation Sans","Noto Sans CJK SC",sans-serif' >-5</text>
<text x="837.5" y="305.6" font-size="9.4" fill="#858585" text-anchor="end" font-family='"Liberation Sans","Noto Sans CJK SC",sans-serif' >-10</text>
<text x="837.5" y="337.3" font-size="9.4" fill="#858585" text-anchor="end" font-family='"Liberation Sans","Noto Sans CJK SC",sans-serif' >-15</text>
<text x="837.5" y="385.2" font-size="9.4" fill="#858585" text-anchor="end" font-family='"Liberation Sans","Noto Sans CJK SC",sans-serif' >5</text>
<text x="837.5" y="438.2" font-size="9.4" fill="#858585" text-anchor="end" font-family='"Liberation Sans","Noto Sans CJK SC",sans-serif' >0</text>
<text x="837.5" y="491.2" font-size="9.4" fill="#858585" text-anchor="end" font-family='"Liberation Sans","Noto Sans CJK SC",sans-serif' >-5</text>
<text x="837.5" y="544.2" font-size="9.4" fill="#858585" text-anchor="end" font-family='"Liberation Sans","Noto Sans CJK SC",sans-serif' >-10</text>
<text x="837.5" y="597.2" font-size="9.4" fill="#858585" text-anchor="end" font-family='"Liberation Sans","Noto Sans CJK SC",sans-serif' >-15</text>
<text transform="translate(816.8 195.5) rotate(-90)" font-size="8.6" fill="#666" text-anchor="middle" font-family='"Liberation Sans","Noto Sans CJK SC",sans-serif'>*出口</text>
<text transform="translate(816.8 482.5) rotate(-90)" font-size="8.6" fill="#666" text-anchor="middle" font-family='"Liberation Sans","Noto Sans CJK SC",sans-serif'>*进口</text>
<text x="806" y="25" font-size="14.5" fill="#555555" text-anchor="start" font-family='"Liberation Serif","Noto Serif CJK SC",serif' font-weight="600">中国大陆与主要贸易伙伴商品贸易平衡</text>
</svg>
</body>
</html>
